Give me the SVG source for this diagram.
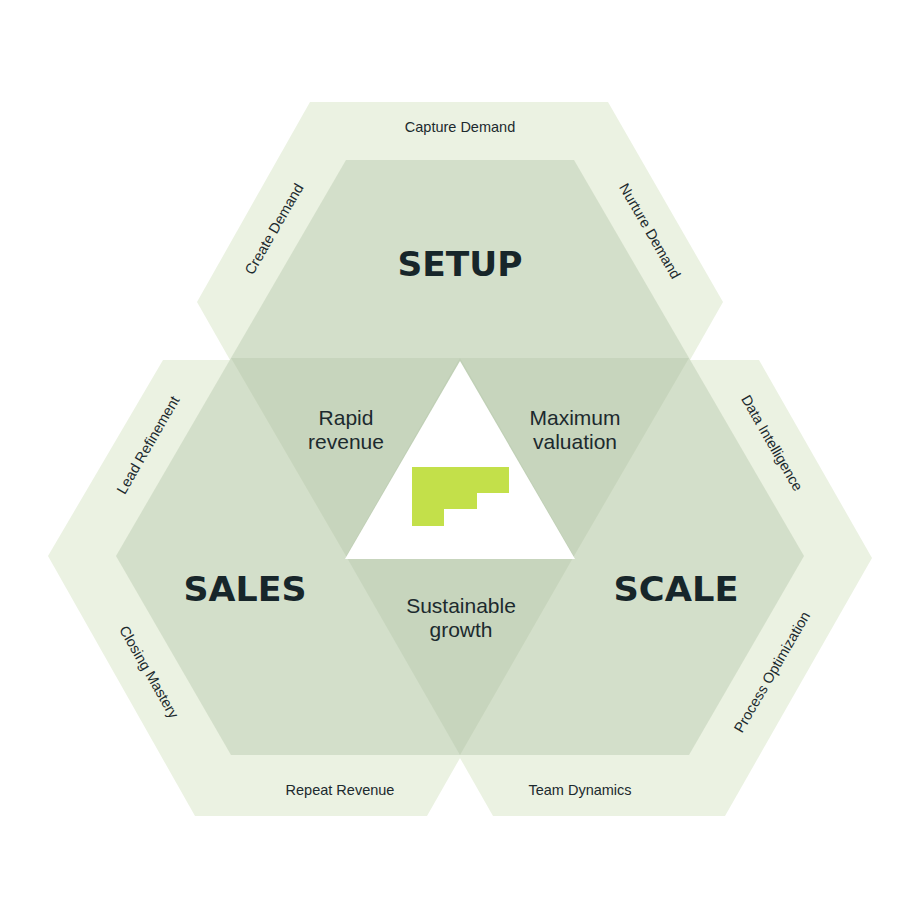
<svg xmlns="http://www.w3.org/2000/svg" width="920" height="920" viewBox="0 0 920 920">
<style>
.outer{fill:#ebf2e2}
.inner{fill:#b8caaf;fill-opacity:0.47}
.big{font-family:"DejaVu Sans","Liberation Sans",sans-serif;font-weight:bold;font-size:34px;fill:#17262a;text-anchor:middle}
.mid{font-family:"Liberation Sans",Arial,sans-serif;font-size:21px;fill:#1c2a2e;text-anchor:middle}
.sm{font-family:"Liberation Sans",Arial,sans-serif;font-size:14.5px;fill:#1c2a2e;text-anchor:middle}
</style>
<rect width="920" height="920" fill="#ffffff"/>
<g id="outer-shapes">
<polygon class="outer" points="310,102 608,102 723,302 690,360 230,360 197,302"/>
<polygon class="outer" points="163,360 460,360 460,758 427,816 195,816 48,556"/>
<polygon class="outer" points="460,360 759,360 872,558 725,816 493,816 460,758"/>
</g>
<g id="setup"><polygon class="inner" points="346,160 574,160 689,358 574,556 346,556 231,358"/><text class="big" x="460" y="276" textLength="125" lengthAdjust="spacingAndGlyphs">SETUP</text></g>
<g id="sales"><polygon class="inner" points="231,358 460,358 574,556 460,755 231,755 116,556"/><text class="big" x="245" y="601" textLength="123" lengthAdjust="spacingAndGlyphs">SALES</text></g>
<g id="scale"><polygon class="inner" points="460,358 689,358 804,556 689,755 460,755 346,556"/><text class="big" x="676" y="601" textLength="125" lengthAdjust="spacingAndGlyphs">SCALE</text></g>
<g id="center">
<polygon fill="#ffffff" points="460,361 575,559 345,559"/>
<polygon fill="#c3e04a" points="412,467 509,467 509,493 477,493 477,509 444,509 444,526 412,526"/>
</g>
<g id="overlaps">
<text class="mid" x="346" y="425">Rapid</text><text class="mid" x="346" y="449">revenue</text>
<text class="mid" x="575" y="425">Maximum</text><text class="mid" x="575" y="449">valuation</text>
<text class="mid" x="461" y="613">Sustainable</text><text class="mid" x="461" y="637">growth</text>
</g>
<g id="edge-labels">
<text class="sm" x="460" y="132">Capture Demand</text>
<text class="sm" transform="translate(274,229) rotate(-60)" y="5">Create Demand</text>
<text class="sm" transform="translate(650,231) rotate(60)" y="5">Nurture Demand</text>
<text class="sm" transform="translate(148,445) rotate(-60)" y="5">Lead Refinement</text>
<text class="sm" transform="translate(149,672) rotate(60)" y="5">Closing Mastery</text>
<text class="sm" x="340" y="795">Repeat Revenue</text>
<text class="sm" x="580" y="795">Team Dynamics</text>
<text class="sm" transform="translate(772,443) rotate(60)" y="5">Data Intelligence</text>
<text class="sm" transform="translate(772,672) rotate(-60)" y="5">Process Optimization</text>
</g>
<g id="connectors"></g>
</svg>
